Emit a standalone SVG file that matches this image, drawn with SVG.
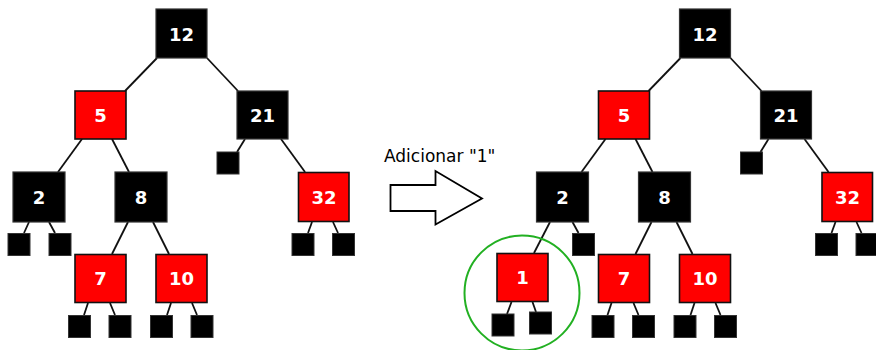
<svg xmlns="http://www.w3.org/2000/svg" width="876" height="350" viewBox="0 0 876 350">
<style>
.b{fill:#000;stroke:#333;stroke-width:1.2}
.r{fill:#f00;stroke:#111;stroke-width:1.6}
.leaf{fill:#000;stroke:#333;stroke-width:1}
.t{font-family:"DejaVu Sans",sans-serif;font-weight:bold;font-size:18px;fill:#fff;text-anchor:middle}
.e line{stroke:#111;stroke-width:1.8}
.lbl{font-family:"DejaVu Sans",sans-serif;font-size:17px;fill:#000}
</style>
<rect width="876" height="350" fill="#fff"/>
<g id="connectors" class="e">
<line x1="157" y1="58" x2="125" y2="91"/>
<line x1="207" y1="58" x2="238" y2="91"/>
<line x1="82" y1="139" x2="58" y2="172"/>
<line x1="112" y1="139" x2="129" y2="172"/>
<line x1="245" y1="139" x2="237" y2="152"/>
<line x1="281" y1="139" x2="305" y2="172"/>
<line x1="29" y1="222" x2="24" y2="233"/>
<line x1="49" y1="222" x2="55" y2="233"/>
<line x1="128" y1="222" x2="112" y2="254"/>
<line x1="153" y1="222" x2="169" y2="254"/>
<line x1="88" y1="303" x2="84" y2="315"/>
<line x1="110" y1="303" x2="115" y2="315"/>
<line x1="171" y1="303" x2="167" y2="315"/>
<line x1="192" y1="303" x2="197" y2="315"/>
<line x1="312" y1="222" x2="308" y2="233"/>
<line x1="333" y1="222" x2="338" y2="233"/>
<line x1="680.5" y1="58" x2="648.5" y2="91"/>
<line x1="730.5" y1="58" x2="761.5" y2="91"/>
<line x1="605.5" y1="139" x2="581.5" y2="172"/>
<line x1="635.5" y1="139" x2="652.5" y2="172"/>
<line x1="768.5" y1="139" x2="760.5" y2="152"/>
<line x1="804.5" y1="139" x2="828.5" y2="172"/>
<line x1="550" y1="222" x2="534" y2="253"/>
<line x1="572.5" y1="222" x2="578.5" y2="233"/>
<line x1="651.5" y1="222" x2="635.5" y2="254"/>
<line x1="676.5" y1="222" x2="692.5" y2="254"/>
<line x1="611.5" y1="303" x2="607.5" y2="315"/>
<line x1="633.5" y1="303" x2="638.5" y2="315"/>
<line x1="694.5" y1="303" x2="690.5" y2="315"/>
<line x1="715.5" y1="303" x2="720.5" y2="315"/>
<line x1="835.5" y1="222" x2="831.5" y2="233"/>
<line x1="856.5" y1="222" x2="861.5" y2="233"/>
<line x1="511.5" y1="302" x2="507" y2="314"/>
<line x1="532.5" y1="302" x2="536" y2="312"/>
</g>
<g id="L12"><rect class="b" x="156" y="9" width="51" height="49"/><text class="t" x="181.5" y="40.5">12</text></g>
<g id="L5"><rect class="r" x="75" y="91" width="51" height="48"/><text class="t" x="100.5" y="121.5">5</text></g>
<g id="L21"><rect class="b" x="237" y="91" width="51" height="48"/><text class="t" x="262.5" y="121.5">21</text></g>
<g id="L2"><rect class="b" x="13" y="172" width="52" height="50"/><text class="t" x="39" y="203.5">2</text></g>
<g id="L8"><rect class="b" x="115" y="172" width="52" height="50"/><text class="t" x="141" y="203.5">8</text></g>
<g id="L32"><rect class="r" x="298.5" y="172.5" width="50.5" height="49"/><text class="t" x="324" y="203.5">32</text></g>
<g id="L7"><rect class="r" x="75" y="254.5" width="51" height="48"/><text class="t" x="100.5" y="285">7</text></g>
<g id="L10"><rect class="r" x="156" y="254.5" width="51" height="48"/><text class="t" x="181.5" y="285">10</text></g>
<g id="Lleaves">
<rect class="leaf" x="217" y="152" width="22" height="22"/>
<rect class="leaf" x="8" y="233.5" width="22" height="22"/>
<rect class="leaf" x="49" y="233.5" width="22" height="22"/>
<rect class="leaf" x="292" y="233.5" width="22" height="22"/>
<rect class="leaf" x="332.5" y="233.5" width="22" height="22"/>
<rect class="leaf" x="68.5" y="315.5" width="22" height="22"/>
<rect class="leaf" x="109" y="315.5" width="22" height="22"/>
<rect class="leaf" x="150.5" y="315.5" width="22" height="22"/>
<rect class="leaf" x="191" y="315.5" width="22" height="22"/>
</g>
<g id="arrow">
<text class="lbl" x="384" y="162">Adicionar "1"</text>
<polygon points="390.5,185 435.5,185 435.5,171 482,198.5 435.5,224.5 435.5,211 390.5,211" fill="#fff" stroke="#000" stroke-width="1.8"/>
</g>
<g id="R12"><rect class="b" x="679.5" y="9" width="51" height="49"/><text class="t" x="705" y="40.5">12</text></g>
<g id="R5"><rect class="r" x="598.5" y="91" width="51" height="48"/><text class="t" x="624" y="121.5">5</text></g>
<g id="R21"><rect class="b" x="760.5" y="91" width="51" height="48"/><text class="t" x="786" y="121.5">21</text></g>
<g id="R2"><rect class="b" x="536.5" y="172" width="52" height="50"/><text class="t" x="562.5" y="203.5">2</text></g>
<g id="R8"><rect class="b" x="638.5" y="172" width="52" height="50"/><text class="t" x="664.5" y="203.5">8</text></g>
<g id="R32"><rect class="r" x="822" y="172.5" width="50.5" height="49"/><text class="t" x="847.5" y="203.5">32</text></g>
<g id="R1"><rect class="r" x="497" y="253.5" width="51" height="48"/><text class="t" x="522.5" y="284">1</text></g>
<g id="R7"><rect class="r" x="598.5" y="254.5" width="51" height="48"/><text class="t" x="624" y="285">7</text></g>
<g id="R10"><rect class="r" x="679.5" y="254.5" width="51" height="48"/><text class="t" x="705" y="285">10</text></g>
<g id="Rleaves">
<rect class="leaf" x="740.5" y="152" width="22" height="22"/>
<rect class="leaf" x="572.5" y="233.5" width="22" height="22"/>
<rect class="leaf" x="815.5" y="233.5" width="22" height="22"/>
<rect class="leaf" x="856" y="233.5" width="22" height="22"/>
<rect class="leaf" x="492" y="314" width="22" height="22"/>
<rect class="leaf" x="529.5" y="312" width="22" height="22"/>
<rect class="leaf" x="592" y="315.5" width="22" height="22"/>
<rect class="leaf" x="632.5" y="315.5" width="22" height="22"/>
<rect class="leaf" x="674" y="315.5" width="22" height="22"/>
<rect class="leaf" x="714.5" y="315.5" width="22" height="22"/>
</g>
<g id="highlight"><circle cx="522" cy="293" r="57.5" fill="none" stroke="#22b022" stroke-width="2"/></g>
</svg>
